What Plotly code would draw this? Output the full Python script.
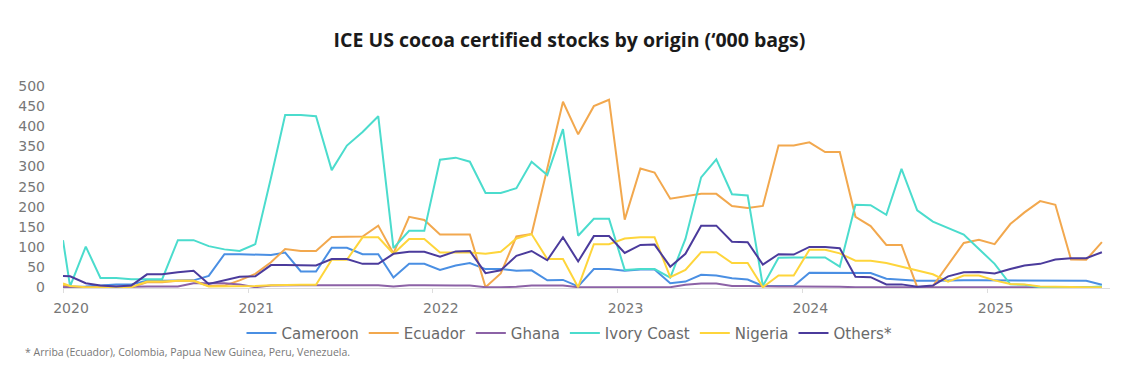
import plotly.graph_objects as go

# Dates: first point at start of Jan 2020, then mid-month Jan 2020 .. Aug 2025
dates = ["2020-01-01"] + [f"{y}-{m:02d}-15" for y in range(2020, 2026) for m in range(1, 13)
                          if not (y == 2025 and m > 8)]

cameroon = [1, 1, 2, 4, 7, 7, 16, 16, 16, 17, 28, 82, 82, 81, 80, 86, 39, 39, 98, 98, 82, 82,
            24, 58, 58, 43, 54, 60, 45, 45, 41, 42, 17, 18, 2, 45, 45, 41, 44, 44, 10, 14, 31, 29,
            22, 19, 3, 3, 3, 36, 36, 35, 35, 35, 21, 18, 16, 16, 17, 17, 17, 17, 17, 17, 16, 16,
            16, 16, 6]
ecuador = [4, 2, 0, 0, 0, 0, 12, 12, 16, 16, 3, 4, 17, 33, 62, 95, 90, 90, 125, 125, 126, 153,
           84, 175, 167, 131, 131, 131, 0, 34, 126, 132, 295, 461, 380, 450, 466, 168, 295, 285,
           220, 226, 232, 232, 202, 197, 202, 352, 352, 360, 336, 336, 175, 152, 105, 105, 0, 3,
           55, 110, 118, 107, 157, 186, 214, 205, 69, 68, 112]
ghana = [0, 0, 0, 0, 0, 1, 2, 2, 2, 10, 10, 10, 7, 0, 4, 5, 5, 5, 5, 5, 5, 5,
         2, 5, 5, 4, 4, 4, 0, 0, 1, 4, 4, 4, 0, 0, 0, 0, 0, 0, 0, 6, 9, 9,
         3, 3, 2, 2, 2, 2, 2, 1, 0, 0, 0, 0, 0, 0, 0, 0, 0, 0, 0, 0, 0, 0, 0, 0, 0]
ivory_coast = [117, 2, 101, 23, 23, 20, 20, 20, 117, 117, 102, 94, 90, 107, 272, 428, 428, 425,
               291, 352, 386, 425, 97, 140, 140, 317, 322, 312, 234, 234, 246, 312, 279, 393, 128,
               170, 170, 43, 45, 45, 24, 120, 273, 318, 231, 228, 3, 73, 74, 74, 74, 51, 205, 204,
               180, 294, 191, 163, 148, 131, 95, 58, 7, 6, 0, 0, 0, 0, 2]
nigeria = [9, 3, 0, 0, 0, 0, 14, 14, 16, 16, 2, 2, 3, 3, 5, 6, 6, 6, 68, 68, 124, 124,
           83, 120, 120, 86, 86, 86, 83, 88, 121, 132, 70, 70, 0, 107, 107, 121, 124, 124, 25,
           43, 87, 87, 60, 60, 0, 29, 29, 93, 93, 84, 66, 66, 60, 51, 40, 32, 14, 29, 29, 17, 8,
           7, 2, 1, 0, 0, 0]
others = [28, 27, 10, 4, 2, 4, 32, 32, 37, 41, 8, 18, 26, 27, 55, 55, 54, 54, 70, 70, 58, 58,
          83, 88, 88, 76, 89, 90, 35, 42, 78, 90, 67, 124, 64, 127, 127, 85, 105, 106, 51, 83,
          153, 153, 113, 112, 56, 82, 81, 100, 100, 97, 26, 25, 7, 7, 1, 4, 27, 37, 38, 34, 45,
          54, 58, 69, 72, 72, 87]

series_names = ["Cameroon", "Ecuador", "Ghana", "Ivory Coast", "Nigeria", "Others*"]
series_values = [cameroon, ecuador, ghana, ivory_coast, nigeria, others]
colors = ["#4a8fe3", "#f2a84e", "#8c62a6", "#4bdccd", "#fed53b", "#4b3b9c"]

fig = go.Figure()
for name, vals, col in zip(series_names, series_values, colors):
    fig.add_trace(go.Scatter(x=dates, y=vals, name=name, mode="lines",
                             line=dict(color=col, width=2)))

fig.update_layout(
    width=1139, height=377,
    paper_bgcolor="white", plot_bgcolor="white",
    margin=dict(l=63, r=29, t=78, b=89, autoexpand=False),
    font=dict(family="DejaVu Sans, sans-serif", color="#777777", size=14),
    title=dict(text="ICE US cocoa certified stocks by origin (‘000 bags)",
               x=0.5, xanchor="center", xref="container",
               y=1 - 40 / 377, yanchor="middle", yref="container",
               font=dict(family="Open Sans, sans-serif", size=19.5, color="#1a1a1a", weight=700)),
    showlegend=True,
    legend=dict(orientation="h", xref="container", yref="container",
                x=0.5, xanchor="center", y=1 - 333.3 / 377, yanchor="middle",
                font=dict(family="DejaVu Sans, sans-serif", size=15, color="#6a6a6a"),
                itemwidth=30, tracegroupgap=0),
    xaxis=dict(type="date", range=["2020-01-01", "2025-08-31"], tickformat="%Y",
               dtick="M12", tick0="2020-01-01", showgrid=False, zeroline=False,
               showline=True, linecolor="#dddddd", linewidth=1,
               ticks="outside", ticklen=4, tickcolor="#dddddd",
               ticklabelshift=8, ticklabelstandoff=3,
               tickfont=dict(size=14, color="#777777")),
    yaxis=dict(range=[-2, 520], tickvals=list(range(0, 501, 50)), showgrid=False,
               zeroline=False, showline=False, ticks="", ticklabelstandoff=17,
               tickfont=dict(size=14, color="#777777")),
    annotations=[dict(text="* Arriba (Ecuador), Colombia, Papua New Guinea, Peru, Venezuela.",
                      xref="paper", yref="paper", x=-0.0382, y=-0.307,
                      xanchor="left", yanchor="middle", showarrow=False,
                      font=dict(family="Open Sans, sans-serif", size=10.5, color="#777777"))],
)

fig.write_html("out.html", config={"displayModeBar": False},
               post_script="document.body.style.margin='0';document.body.style.padding='0';")
